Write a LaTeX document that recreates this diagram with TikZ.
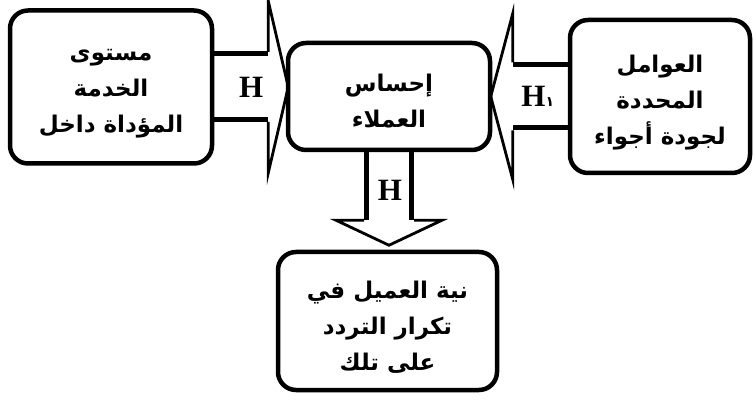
\documentclass[tikz,border=0pt]{standalone}
\usepackage{fontspec}
\setmainfont{Liberation Serif}
\newfontfamily\arabicfont[Script=Arabic]{DejaVu Sans}
\TeXXeTstate=1
\usetikzlibrary{calc}

\tikzset{
  box/.style={draw, line width=4.5pt, rounded corners=18pt},
  boxtext/.style={align=center, inner sep=0pt, font=\arabicfont\bfseries\fontsize{23}{36}\selectfont},
  shaft/.style={line width=5pt, line cap=butt},
  head/.style={line width=2.8pt, line join=miter},
  hlabel/.style={font=\bfseries\fontsize{31}{31}\selectfont}
}

\begin{document}
\begin{tikzpicture}[x=1pt,y=-1pt]
\useasboundingbox (0,0) rectangle (756,401);

% boxes
\node[box, minimum width=202pt, minimum height=153pt] (service) at (111,87) {};
\node[box, minimum width=202pt, minimum height=107pt] (feeling) at (389,96.5) {};
\node[box, minimum width=180pt, minimum height=153pt] (factors) at (660,96.5) {};
\node[box, minimum width=219pt, minimum height=138pt] (intent) at (387.5,321) {};

% box texts
\node[boxtext] (serviceText) at ($(service)+(0,7)$) {\beginR مستوى\endR\\ \beginR الخدمة\endR\\ \beginR المؤداة داخل\endR};
\node[boxtext] (feelingText) at ($(feeling)+(0,5)$) {\beginR إحساس\endR\\ \beginR العملاء\endR};
\node[boxtext] (factorsText) at ($(factors)+(0,6)$) {\beginR العوامل\endR\\ \beginR المحددة\endR\\ \beginR لجودة أجواء\endR};
\node[boxtext] (intentText) at ($(intent)+(0,6)$) {\beginR نية العميل في\endR\\ \beginR تكرار التردد\endR\\ \beginR على تلك\endR};

% left arrow: service -> feeling
\coordinate (tipA) at ($(service.east)+(74,0)$);
\draw[shaft] ($(service.east)+(0,-33)$) -- ($(service.east)+(54,-33)$);
\draw[shaft] ($(service.east)+(0,33)$) -- ($(service.east)+(54,33)$);
\draw[head] ($(service.east)+(54,-35)$) -- ($(service.east)+(54,-86)$) -- (tipA) -- ($(service.east)+(54,86)$) -- ($(service.east)+(54,35)$);
\node[hlabel] (hA) at ($(service.east)+(37,0)$) {H};

% right arrow: factors -> feeling
\coordinate (tipB) at ($(factors.west)+(-77,0)$);
\draw[shaft] ($(factors.west)+(0,-31.5)$) -- ($(factors.west)+(-55,-31.5)$);
\draw[shaft] ($(factors.west)+(0,31.5)$) -- ($(factors.west)+(-55,31.5)$);
\draw[head] ($(factors.west)+(-55,-34)$) -- ($(factors.west)+(-55,-83)$) -- (tipB) -- ($(factors.west)+(-55,83)$) -- ($(factors.west)+(-55,34)$);
\node[hlabel] (hB) at ($(factors.west)+(-30,0)$) {H{\arabicfont\fontsize{14}{14}\selectfont ١}};

% down arrow: feeling -> intent
\coordinate (tipC) at ($(feeling.south)+(0,93)$);
\draw[shaft] ($(feeling.south)+(-22.5,0)$) -- ($(feeling.south)+(-22.5,68)$);
\draw[shaft] ($(feeling.south)+(22.5,0)$) -- ($(feeling.south)+(22.5,68)$);
\draw[head] ($(feeling.south)+(-25,68)$) -- ($(feeling.south)+(-53,68)$) -- (tipC) -- ($(feeling.south)+(53,68)$) -- ($(feeling.south)+(25,68)$);
\node[hlabel] (hC) at ($(feeling.south)+(1,38)$) {H};
\end{tikzpicture}
\end{document}
